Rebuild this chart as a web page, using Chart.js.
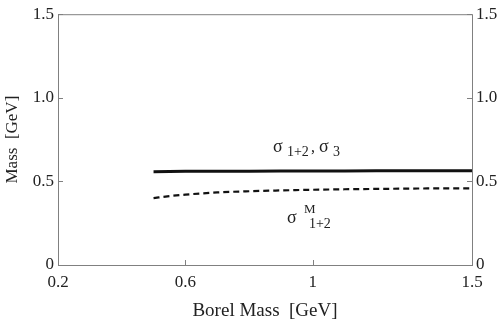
<!DOCTYPE html>
<html>
<head>
<meta charset="utf-8">
<script src="https://cdn.jsdelivr.net/npm/chart.js@4/dist/chart.umd.min.js"></script>
<style>
  html, body { margin: 0; padding: 0; background: #fff; }
  #wrap { width: 500px; height: 324px; }
</style>
</head>
<body>
<div id="wrap"><canvas id="massChart"></canvas></div>
<script>
/* ===== Borel mass stability plot ===== */

const borelMass = [0.5, 0.55, 0.6, 0.65, 0.7, 0.8, 0.9, 1.0, 1.1, 1.2, 1.3, 1.4, 1.5];
const sigma12 = [0.558, 0.559, 0.560, 0.560, 0.561, 0.561, 0.562, 0.562, 0.562, 0.563, 0.563, 0.563, 0.563];
const sigmaM12 = [0.400, 0.412, 0.421, 0.428, 0.434, 0.441, 0.446, 0.450, 0.453, 0.455, 0.457, 0.458, 0.458];
const xTicks = [0.2, 0.6, 1, 1.5];
const yTicks = [0, 0.5, 1.0, 1.5];

const serif = "'Liberation Serif', 'DejaVu Serif', serif";
const ink = '#222';
const frameColor = '#808080';

function toPoints(xs, ys) {
  return xs.map((x, i) => ({ x: x, y: ys[i] }));
}

// pieces: [text, fontSize, dx, dy] relative to an anchor
function drawPieces(ctx, x, y, pieces) {
  pieces.forEach(p => {
    ctx.font = p[1] + 'px ' + serif;
    ctx.fillText(p[0], x + p[2], y + p[3]);
  });
}

const framePlugin = {
  id: 'frame',
  afterDraw(chart) {
    const { ctx, chartArea: a, scales } = chart;
    ctx.save();
    ctx.strokeStyle = frameColor;
    ctx.lineWidth = 1;
    ctx.strokeRect(a.left + 0.5, a.top + 0.5, a.right - a.left, a.bottom - a.top);
    // inward ticks
    ctx.beginPath();
    xTicks.forEach(v => {
      const px = Math.round(scales.x.getPixelForValue(v)) + 0.5;
      ctx.moveTo(px, a.bottom); ctx.lineTo(px, a.bottom - 5);
    });
    yTicks.forEach(v => {
      const py = Math.round(scales.y.getPixelForValue(v)) + 0.5;
      ctx.moveTo(a.left, py); ctx.lineTo(a.left + 5, py);
      ctx.moveTo(a.right, py); ctx.lineTo(a.right - 5, py);
    });
    ctx.stroke();

    // curve labels
    ctx.fillStyle = ink;
    ctx.textBaseline = 'alphabetic';
    ctx.textAlign = 'left';
    const l1x = scales.x.getPixelForValue(0.875);
    const l1y = scales.y.getPixelForValue(0.676);
    drawPieces(ctx, l1x, l1y, [['σ', 18, 0, 0], ['1+2', 14, 14, 4], [',', 16, 38, 0], ['σ', 18, 46, 0], ['3', 14, 60, 4]]);
    const l2x = scales.x.getPixelForValue(0.919);
    const l2y = scales.y.getPixelForValue(0.253);
    drawPieces(ctx, l2x, l2y, [['σ', 18, 0, 0], ['M', 13, 17, -10], ['1+2', 14, 22, 5]]);
    ctx.restore();
  }
};

const ctx = document.getElementById('massChart').getContext('2d');
new Chart(ctx, {
  type: 'line',
  data: {
    datasets: [{
      label: 'sigma 1+2, sigma 3',
      data: toPoints(borelMass, sigma12),
      borderColor: '#111',
      borderWidth: 3,
      pointRadius: 0,
      fill: false
    }, {
      label: 'sigma M 1+2',
      data: toPoints(borelMass, sigmaM12),
      borderColor: '#111',
      borderWidth: 2.2,
      borderDash: [6, 4],
      cubicInterpolationMode: 'monotone',
      pointRadius: 0,
      fill: false
    }]
  },
  options: {
    responsive: true,
    maintainAspectRatio: false,
    animation: false,
    layout: { padding: { top: 10, left: 0, right: 0, bottom: 0 } },
    plugins: { legend: { display: false }, tooltip: { enabled: false } },
    scales: {
      x: {
        type: 'linear',
        min: 0.2, max: 1.5,
        afterBuildTicks: s => { s.ticks = xTicks.map(v => ({ value: v })); },
        afterFit: s => { s.height = 59; },
        grid: { display: false, drawTicks: false },
        border: { display: false },
        ticks: { color: ink, padding: 7, font: { family: serif, size: 17 }, maxRotation: 0, callback: v => String(v) },
        title: { display: true, text: 'Borel Mass  [GeV]', color: ink, padding: { top: 0, bottom: 2 }, font: { family: serif, size: 19 } }
      },
      y: {
        type: 'linear',
        position: 'left',
        min: 0, max: 1.5,
        afterBuildTicks: s => { s.ticks = yTicks.map(v => ({ value: v })); },
        afterFit: s => { s.width = 58; },
        grid: { display: false, drawTicks: false },
        border: { display: false },
        ticks: { color: ink, padding: 4, font: { family: serif, size: 17 }, callback: v => v === 0 ? '0' : v.toFixed(1) },
        title: { display: true, text: 'Mass  [GeV]', color: ink, padding: { top: 2, bottom: 0 }, font: { family: serif, size: 17 } }
      },
      y2: {
        type: 'linear',
        position: 'right',
        min: 0, max: 1.5,
        afterBuildTicks: s => { s.ticks = yTicks.map(v => ({ value: v })); },
        afterFit: s => { s.width = 28; },
        grid: { display: false, drawTicks: false },
        border: { display: false },
        ticks: { color: ink, padding: 4, font: { family: serif, size: 17 }, callback: v => v === 0 ? '0' : v.toFixed(1) }
      }
    }
  },
  plugins: [framePlugin]
});
</script>
</body>
</html>
